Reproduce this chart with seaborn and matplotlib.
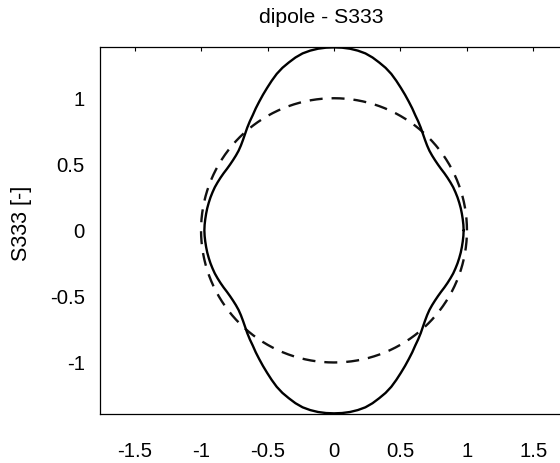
import numpy as np
import pandas as pd
import matplotlib
matplotlib.use("Agg")
import matplotlib.pyplot as plt
import seaborn as sns

# Solid curve (S333) read in the first quadrant: polar angle [deg] and radius
theta_deg = [0, 2.5, 5, 7.5, 10, 12.5, 15, 17.5, 20, 22.5, 25, 27.5, 30, 32.5, 35,
             37.5, 40, 42.5, 45, 47.5, 50, 52.5, 55, 57.5, 60, 62.5, 65, 67.5, 70,
             72.5, 75, 77.5, 80, 82.5, 85, 87.5, 90]
r_s333 = [0.975, 0.974, 0.972, 0.970, 0.968, 0.965, 0.962, 0.958, 0.954, 0.948,
          0.942, 0.936, 0.930, 0.927, 0.927, 0.930, 0.937, 0.950, 0.968, 0.990,
          1.015, 1.040, 1.065, 1.095, 1.125, 1.157, 1.190, 1.225, 1.260, 1.290,
          1.315, 1.340, 1.360, 1.372, 1.380, 1.384, 1.385]
# Dashed reference (isotropic) curve radius
r_ref = [1.0] * len(theta_deg)

x_ticks = [-1.5, -1, -0.5, 0, 0.5, 1, 1.5]
x_ticklabels = ["-1.5", "-1", "-0.5", "0", "0.5", "1", "1.5"]
y_ticks = [-1, -0.5, 0, 0.5, 1]
y_ticklabels = ["-1", "-0.5", "0", "0.5", "1"]


def full_curve(theta, r):
    th = np.deg2rad(np.asarray(theta, float))
    rr = np.asarray(r, float)
    # mirror the first quadrant into the other three (curve is symmetric)
    th_all = np.concatenate([th, np.pi - th[::-1][1:], np.pi + th[1:], 2 * np.pi - th[::-1][1:]])
    r_all = np.concatenate([rr, rr[::-1][1:], rr[1:], rr[::-1][1:]])
    return pd.DataFrame({"x": r_all * np.cos(th_all), "y": r_all * np.sin(th_all)})


sns.set_theme(style="white")
plt.rcParams["font.family"] = ["Liberation Sans", "DejaVu Sans"]

fig = plt.figure(figsize=(5.6, 4.63), dpi=100)
ax = fig.add_axes([100 / 560, (463 - 414) / 463, 468 / 560, 367.3 / 463])

d_s = full_curve(theta_deg, r_s333)
d_r = full_curve(theta_deg, r_ref)
sns.lineplot(data=d_r, x="x", y="y", sort=False, estimator=None, ax=ax,
             color="#111111", linewidth=1.7, linestyle=(0, (5.5, 3.8)))
sns.lineplot(data=d_s, x="x", y="y", sort=False, estimator=None, ax=ax,
             color="black", linewidth=1.7)

ax.set_xlim(-1.76, 1.76)
ax.set_ylim(-1.39, 1.39)
ax.set_xticks(x_ticks)
ax.set_xticklabels(x_ticklabels)
ax.set_yticks(y_ticks)
ax.set_yticklabels(y_ticklabels)
ax.tick_params(direction="in", length=3, width=0.8, top=True, right=True,
               labelsize=14.7, colors="black")
ax.tick_params(axis="x", pad=20)
ax.tick_params(axis="y", pad=11)
for s in ax.spines.values():
    s.set_color("black")
    s.set_linewidth(0.9)
ax.set_xlabel("")
ax.set_ylabel("S333 [-]", fontsize=15.5, labelpad=14, color="black")
ax.yaxis.set_label_coords(-0.145, 0.518)
ax.set_title("dipole - S333", fontsize=15.2, pad=17, color="black", x=0.472)
ax.grid(False)

fig.savefig("out.png", dpi=100)
